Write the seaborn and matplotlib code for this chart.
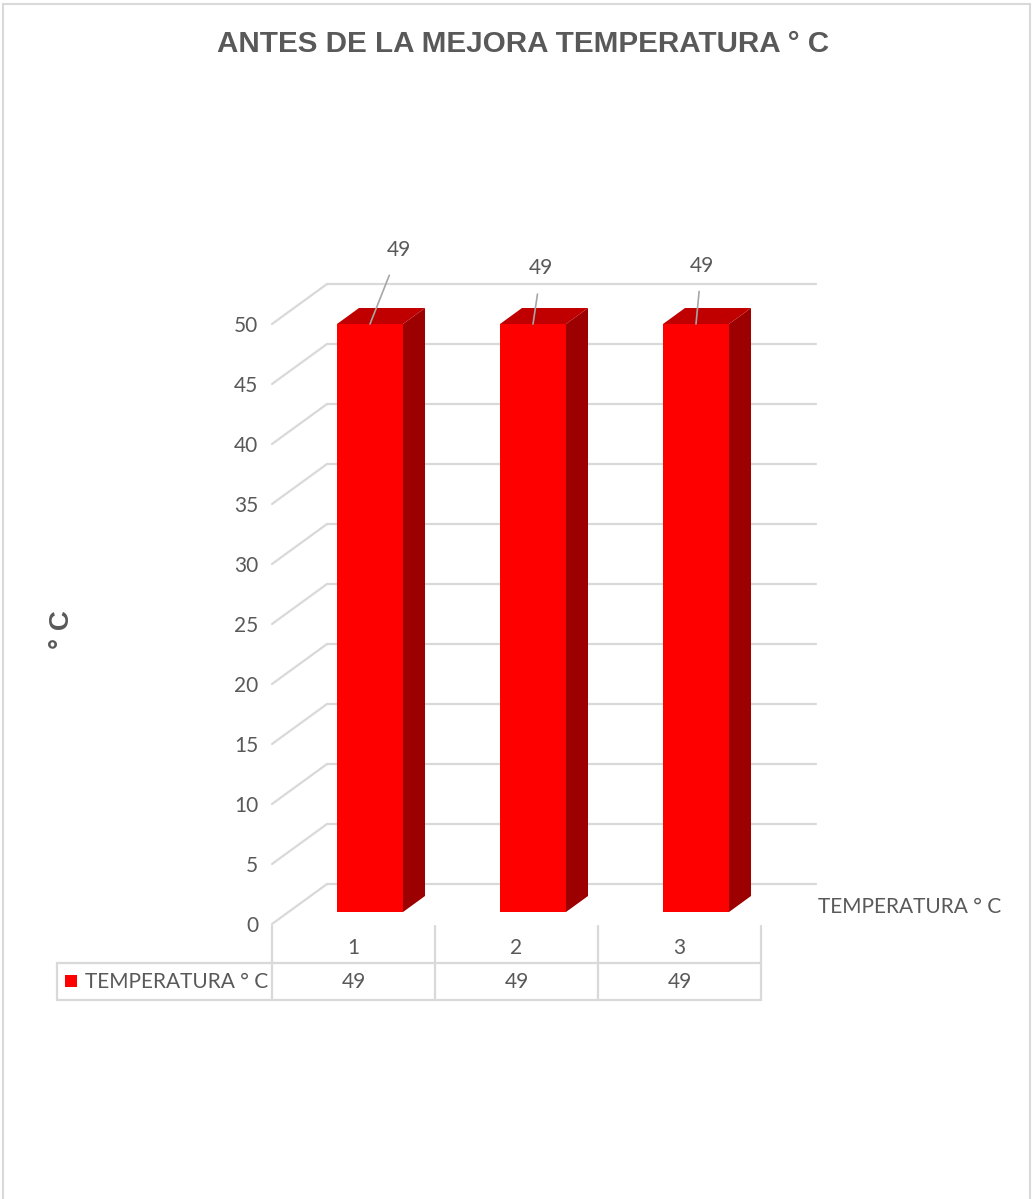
import matplotlib
matplotlib.use("Agg")
import matplotlib.pyplot as plt
import matplotlib.transforms as mtransforms
from matplotlib.patches import Polygon, Rectangle
from matplotlib.lines import Line2D
import seaborn as sns
import pandas as pd
import numpy as np

# ---- data ----
categories = ["1", "2", "3"]
values = [49, 49, 49]
series_name = "TEMPERATURA ° C"
title = "ANTES DE LA MEJORA TEMPERATURA ° C"
ylabel = "° C"
yticks = list(range(0, 55, 5))

df = pd.DataFrame({"cat": categories, "val": values})

sns.set_theme(style="white")
plt.rcParams["font.family"] = ["Lato", "DejaVu Sans"]

W, H = 1033, 1199
fig = plt.figure(figsize=(W / 100, H / 100), dpi=100)
fig.patch.set_facecolor("white")

TXT = "#595959"
GRID = "#d9d9d9"
FRONT = "#FF0000"
TOP = "#C00000"
SIDE = "#9C0000"
FS = 15

# main axes = front plane of the 3D box
ax = fig.add_axes([272 / W, 1 - 924 / H, 489 / W, 600 / H])
ax.set_facecolor("none")

sns.barplot(data=df, x="cat", y="val", color=FRONT, saturation=1,
            width=0.405, ax=ax, zorder=3)
ax.set_xlim(-0.5, 2.5)
ax.set_ylim(0, 50)

DX, DY = 55, 40  # pixel depth offset of the back wall


def depth_tf(d):
    return mtransforms.offset_copy(ax.transData, fig=fig, x=DX * d, y=DY * d, units="dots")


def disp(x, y, d):
    p = ax.transData.transform((x, y))
    return (p[0] + DX * d, p[1] + DY * d)


ident = mtransforms.IdentityTransform()

# gridlines: back wall + left side wall
for v in yticks:
    x0, y0 = disp(-0.5, v, 1)
    x1, y1 = disp(2.5, v, 1)
    fig.add_artist(Line2D([x0, x1], [y0, y1], transform=ident, color=GRID, lw=1.6, zorder=0))
    a0, b0 = disp(-0.5, v, 0)
    fig.add_artist(Line2D([a0, x0], [b0, y0], transform=ident, color=GRID, lw=1.6, zorder=0))

# 3D bars: front face from seaborn at depth 0.3, with top and side faces
d_front, d_back = 0.3, 0.7
for patch in ax.patches:
    patch.set_transform(depth_tf(d_front))
    patch.set_clip_on(False)
    patch.set_edgecolor("none")
    xl = patch.get_x()
    xr = xl + patch.get_width()
    top = patch.get_height()
    side = [disp(xr, 0, d_front), disp(xr, 0, d_back), disp(xr, top, d_back), disp(xr, top, d_front)]
    topf = [disp(xl, top, d_front), disp(xr, top, d_front), disp(xr, top, d_back), disp(xl, top, d_back)]
    ax.add_patch(Polygon(side, closed=True, transform=ident, facecolor=SIDE, edgecolor="none",
                         clip_on=False, zorder=2))
    ax.add_patch(Polygon(topf, closed=True, transform=ident, facecolor=TOP, edgecolor="none",
                         clip_on=False, zorder=4))

# data labels with leader lines (offsets in points)
label_offsets = [(21, 53), (6, 40), (4, 42)]
for i, v in enumerate(values):
    ox, oy = label_offsets[i]
    ax.annotate(str(v), xy=(i, v), xycoords=depth_tf(d_front),
                xytext=(ox, oy), textcoords="offset points",
                ha="center", va="center", fontsize=FS, color=TXT,
                arrowprops=dict(arrowstyle="-", color="#a6a6a6", lw=1.2,
                                shrinkA=9, shrinkB=0),
                annotation_clip=False, zorder=6)

# y ticks on front plane
ax.set_yticks(yticks)
ax.set_yticklabels([str(t) for t in yticks], fontsize=FS, color=TXT)
ax.tick_params(axis="y", length=0, pad=10)
ax.set_xticks([])
ax.set_xlabel("")
ax.set_ylabel("")
for s in ax.spines.values():
    s.set_visible(False)

# axis title
fig.text(62 / W, 1 - 630 / H, ylabel, rotation=90, ha="center", va="center",
         fontsize=20, fontweight="bold", color=TXT, family=["Liberation Sans", "DejaVu Sans"])

# chart title
fig.text(523 / W, 1 - 44 / H, title, ha="center", va="center", fontsize=21.3,
         fontweight="bold", color=TXT, family=["Liberation Sans", "DejaVu Sans"])

# series label at right
fig.text(818 / W, 1 - 907 / H, series_name, ha="left", va="center", fontsize=FS, color=TXT)

# ---- data table ----
bt = mtransforms.blended_transform_factory(ax.transData, fig.transFigure)


def fy(y):
    return 1 - y / H


for xb in [-0.5, 0.5, 1.5, 2.5]:
    fig.add_artist(Line2D([xb, xb], [fy(926), fy(1000)], transform=bt, color=GRID, lw=1.6))
for yy in [963, 1000]:
    fig.add_artist(Line2D([57 / W, 761 / W], [fy(yy), fy(yy)], transform=fig.transFigure,
                          color=GRID, lw=1.6))
fig.add_artist(Line2D([57 / W, 57 / W], [fy(963), fy(1000)], transform=fig.transFigure,
                      color=GRID, lw=1.6))
for i, c in enumerate(categories):
    fig.text(i, fy(948), c, transform=bt, ha="center", va="center", fontsize=FS, color=TXT)
    fig.text(i, fy(982), str(values[i]), transform=bt, ha="center", va="center", fontsize=FS, color=TXT)
fig.add_artist(Rectangle((65 / W, fy(987)), 12 / W, 12 / H, transform=fig.transFigure,
                         facecolor=FRONT, edgecolor="none"))
fig.text(85 / W, fy(982), series_name, ha="left", va="center", fontsize=FS, color=TXT)

# outer chart border
fig.add_artist(Rectangle((3 / W, -0.01), 1027 / W, 1 - 4 / H + 0.01, transform=fig.transFigure,
                         facecolor="none", edgecolor=GRID, lw=1.5))

fig.savefig("out.png", dpi=100)
